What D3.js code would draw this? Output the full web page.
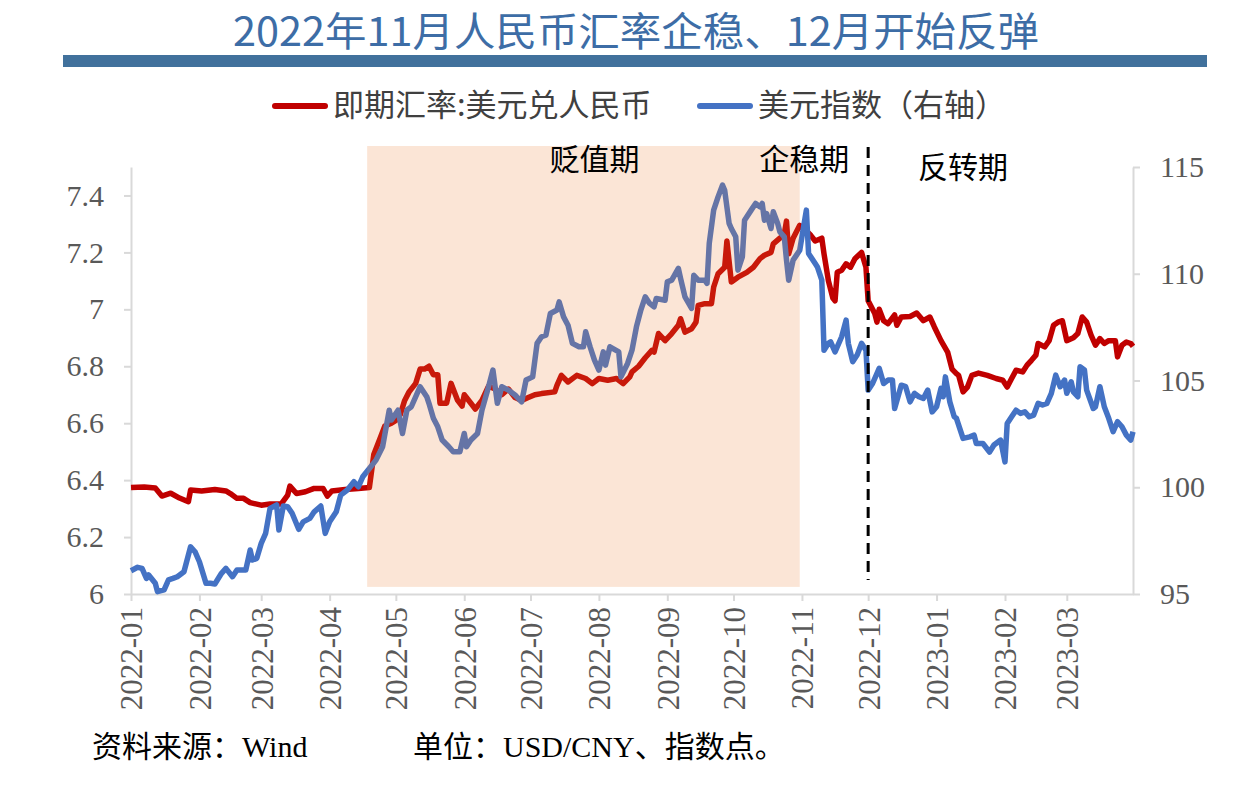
<!DOCTYPE html>
<html>
<head>
<meta charset="utf-8">
<script src="https://cdn.jsdelivr.net/npm/d3@7"></script>
<style>
  html, body { margin: 0; padding: 0; background: #fff; }
  svg { display: block; }
</style>
</head>
<body>
<div id="chart"></div>
<script>
// USD/CNY spot (left axis)
const fxSeries = [
  ['2022-01-01', 6.374], ['2022-01-07', 6.376], ['2022-01-12', 6.372], ['2022-01-15', 6.344],
  ['2022-01-19', 6.354], ['2022-01-23', 6.337], ['2022-01-27', 6.324], ['2022-01-28', 6.365],
  ['2022-02-02', 6.362], ['2022-02-08', 6.367], ['2022-02-13', 6.362], ['2022-02-15', 6.353],
  ['2022-02-18', 6.336], ['2022-02-21', 6.336], ['2022-02-24', 6.321], ['2022-03-01', 6.312],
  ['2022-03-05', 6.316], ['2022-03-10', 6.316], ['2022-03-13', 6.347], ['2022-03-14', 6.379],
  ['2022-03-17', 6.353], ['2022-03-21', 6.359], ['2022-03-25', 6.371], ['2022-03-29', 6.371],
  ['2022-03-31', 6.344], ['2022-04-02', 6.362], ['2022-04-08', 6.367], ['2022-04-14', 6.371],
  ['2022-04-19', 6.374], ['2022-04-21', 6.49], ['2022-04-24', 6.55], ['2022-04-26', 6.59],
  ['2022-04-29', 6.60], ['2022-05-01', 6.61], ['2022-05-03', 6.63], ['2022-05-05', 6.68],
  ['2022-05-07', 6.71], ['2022-05-10', 6.74], ['2022-05-12', 6.79], ['2022-05-14', 6.79],
  ['2022-05-16', 6.80], ['2022-05-18', 6.77], ['2022-05-20', 6.77], ['2022-05-21', 6.67],
  ['2022-05-24', 6.67], ['2022-05-26', 6.74], ['2022-05-29', 6.68], ['2022-05-31', 6.66],
  ['2022-06-01', 6.70], ['2022-06-04', 6.67], ['2022-06-06', 6.65], ['2022-06-09', 6.68],
  ['2022-06-12', 6.73], ['2022-06-15', 6.72], ['2022-06-18', 6.70], ['2022-06-21', 6.72],
  ['2022-06-24', 6.69], ['2022-06-27', 6.68], ['2022-06-30', 6.69], ['2022-07-03', 6.70],
  ['2022-07-06', 6.704], ['2022-07-12', 6.71], ['2022-07-13', 6.733], ['2022-07-15', 6.768],
  ['2022-07-18', 6.745], ['2022-07-22', 6.768], ['2022-07-26', 6.757], ['2022-07-29', 6.739],
  ['2022-08-01', 6.757], ['2022-08-05', 6.751], ['2022-08-09', 6.757], ['2022-08-12', 6.739],
  ['2022-08-15', 6.763], ['2022-08-16', 6.78], ['2022-08-19', 6.80], ['2022-08-22', 6.83],
  ['2022-08-25', 6.856], ['2022-08-26', 6.85], ['2022-08-28', 6.915], ['2022-08-31', 6.89],
  ['2022-09-03', 6.915], ['2022-09-06', 6.944], ['2022-09-07', 6.967], ['2022-09-09', 6.92],
  ['2022-09-12', 6.932], ['2022-09-14', 6.955], ['2022-09-15', 7.014], ['2022-09-18', 7.02],
  ['2022-09-21', 7.02], ['2022-09-22', 7.078], ['2022-09-24', 7.125], ['2022-09-27', 7.148],
  ['2022-09-28', 7.24], ['2022-09-30', 7.096], ['2022-10-03', 7.113], ['2022-10-07', 7.13],
  ['2022-10-10', 7.148], ['2022-10-13', 7.178], ['2022-10-15', 7.19], ['2022-10-18', 7.20],
  ['2022-10-19', 7.23], ['2022-10-22', 7.25], ['2022-10-24', 7.265], ['2022-10-25', 7.31],
  ['2022-10-26', 7.195], ['2022-10-28', 7.25], ['2022-10-31', 7.295], ['2022-11-02', 7.283],
  ['2022-11-05', 7.26], ['2022-11-07', 7.24], ['2022-11-10', 7.25], ['2022-11-11', 7.195],
  ['2022-11-13', 7.10], ['2022-11-15', 7.04], ['2022-11-16', 7.03], ['2022-11-17', 7.13],
  ['2022-11-19', 7.137], ['2022-11-21', 7.16], ['2022-11-23', 7.148], ['2022-11-25', 7.178],
  ['2022-11-28', 7.20], ['2022-11-30', 7.148], ['2022-12-01', 7.03], ['2022-12-04', 6.985],
  ['2022-12-05', 6.955], ['2022-12-06', 7.00], ['2022-12-08', 6.96], ['2022-12-10', 6.95],
  ['2022-12-13', 6.98], ['2022-12-14', 6.944], ['2022-12-16', 6.973], ['2022-12-20', 6.975],
  ['2022-12-23', 6.987], ['2022-12-26', 6.96], ['2022-12-29', 6.973], ['2022-12-31', 6.938],
  ['2023-01-03', 6.89], ['2023-01-06', 6.85], ['2023-01-08', 6.79], ['2023-01-10', 6.774],
  ['2023-01-11', 6.768], ['2023-01-13', 6.71], ['2023-01-15', 6.727], ['2023-01-17', 6.768],
  ['2023-01-20', 6.776], ['2023-01-24', 6.768], ['2023-01-28', 6.757], ['2023-01-31', 6.751],
  ['2023-02-02', 6.727], ['2023-02-04', 6.757], ['2023-02-06', 6.786], ['2023-02-09', 6.78],
  ['2023-02-11', 6.804], ['2023-02-13', 6.821], ['2023-02-15', 6.839], ['2023-02-16', 6.88],
  ['2023-02-19', 6.868], ['2023-02-21', 6.89], ['2023-02-23', 6.944], ['2023-02-25', 6.955],
  ['2023-02-27', 6.96], ['2023-03-01', 6.89], ['2023-03-04', 6.90], ['2023-03-06', 6.915],
  ['2023-03-08', 6.973], ['2023-03-10', 6.955], ['2023-03-12', 6.909], ['2023-03-14', 6.874],
  ['2023-03-16', 6.897], ['2023-03-18', 6.88], ['2023-03-20', 6.89], ['2023-03-23', 6.89],
  ['2023-03-24', 6.833], ['2023-03-26', 6.874], ['2023-03-28', 6.885], ['2023-03-30', 6.88],
  ['2023-03-31', 6.87]
];

// US dollar index (right axis)
const dxySeries = [
  ['2022-01-01', 96.09], ['2022-01-04', 96.25], ['2022-01-06', 96.20], ['2022-01-08', 95.73],
  ['2022-01-09', 95.89], ['2022-01-12', 95.50], ['2022-01-13', 95.11], ['2022-01-16', 95.19],
  ['2022-01-18', 95.66], ['2022-01-20', 95.73], ['2022-01-22', 95.81], ['2022-01-25', 96.04],
  ['2022-01-28', 97.21], ['2022-01-30', 96.98], ['2022-02-01', 96.51], ['2022-02-04', 95.50],
  ['2022-02-06', 95.50], ['2022-02-08', 95.47], ['2022-02-11', 95.97], ['2022-02-13', 96.20],
  ['2022-02-16', 95.81], ['2022-02-18', 96.12], ['2022-02-22', 96.12], ['2022-02-24', 97.06],
  ['2022-02-25', 96.59], ['2022-02-27', 96.67], ['2022-03-01', 97.37], ['2022-03-03', 97.84],
  ['2022-03-05', 99.01], ['2022-03-08', 99.17], ['2022-03-09', 98.00], ['2022-03-11', 99.12],
  ['2022-03-13', 99.09], ['2022-03-15', 98.78], ['2022-03-18', 98.03], ['2022-03-20', 98.38],
  ['2022-03-23', 98.54], ['2022-03-25', 98.85], ['2022-03-28', 99.12], ['2022-03-30', 97.84],
  ['2022-04-01', 98.38], ['2022-04-04', 98.85], ['2022-04-06', 99.63], ['2022-04-09', 99.87],
  ['2022-04-12', 100.26], ['2022-04-14', 100.02], ['2022-04-16', 100.49], ['2022-04-19', 100.88],
  ['2022-04-22', 101.27], ['2022-04-25', 101.90], ['2022-04-28', 103.61], ['2022-04-29', 103.15],
  ['2022-05-02', 103.61], ['2022-05-04', 102.52], ['2022-05-06', 103.61], ['2022-05-08', 103.77],
  ['2022-05-12', 104.71], ['2022-05-15', 104.24], ['2022-05-16', 103.93], ['2022-05-18', 103.23],
  ['2022-05-20', 102.83], ['2022-05-22', 102.21], ['2022-05-25', 101.90], ['2022-05-27', 101.66],
  ['2022-05-30', 101.66], ['2022-06-01', 102.52], ['2022-06-02', 101.90], ['2022-06-04', 102.21],
  ['2022-06-07', 102.52], ['2022-06-09', 103.61], ['2022-06-12', 104.71], ['2022-06-14', 105.49],
  ['2022-06-16', 103.93], ['2022-06-18', 104.71], ['2022-06-21', 104.55], ['2022-06-24', 104.32],
  ['2022-06-27', 104.00], ['2022-06-29', 105.02], ['2022-07-02', 105.17], ['2022-07-04', 106.74],
  ['2022-07-06', 107.05], ['2022-07-08', 107.12], ['2022-07-10', 108.14], ['2022-07-13', 108.30],
  ['2022-07-14', 108.68], ['2022-07-16', 107.98], ['2022-07-18', 107.59], ['2022-07-20', 106.74],
  ['2022-07-23', 106.58], ['2022-07-25', 106.58], ['2022-07-26', 107.28], ['2022-07-28', 106.58],
  ['2022-07-30', 105.95], ['2022-08-01', 105.49], ['2022-08-03', 106.34], ['2022-08-04', 105.72],
  ['2022-08-06', 106.58], ['2022-08-10', 106.34], ['2022-08-11', 105.17], ['2022-08-14', 105.80],
  ['2022-08-16', 106.42], ['2022-08-18', 107.51], ['2022-08-20', 108.30], ['2022-08-22', 108.92],
  ['2022-08-24', 108.61], ['2022-08-26', 108.45], ['2022-08-27', 108.84], ['2022-08-31', 108.76],
  ['2022-09-01', 109.62], ['2022-09-03', 109.70], ['2022-09-06', 110.25], ['2022-09-07', 109.78],
  ['2022-09-09', 108.92], ['2022-09-12', 108.38], ['2022-09-13', 109.93], ['2022-09-15', 109.70],
  ['2022-09-18', 109.70], ['2022-09-19', 109.55], ['2022-09-20', 111.42], ['2022-09-22', 112.98],
  ['2022-09-24', 113.60], ['2022-09-26', 114.15], ['2022-09-27', 113.91], ['2022-09-29', 112.36],
  ['2022-09-30', 112.12], ['2022-10-02', 111.73], ['2022-10-03', 110.17], ['2022-10-05', 110.79],
  ['2022-10-06', 112.51], ['2022-10-09', 112.98], ['2022-10-11', 113.29], ['2022-10-13', 113.13],
  ['2022-10-14', 113.29], ['2022-10-15', 112.51], ['2022-10-16', 112.82], ['2022-10-18', 112.12],
  ['2022-10-19', 112.90], ['2022-10-21', 112.36], ['2022-10-22', 111.96], ['2022-10-24', 111.73],
  ['2022-10-25', 110.64], ['2022-10-26', 109.70], ['2022-10-28', 110.64], ['2022-10-29', 110.79],
  ['2022-10-31', 111.10], ['2022-11-01', 111.73], ['2022-11-03', 112.98], ['2022-11-04', 110.95],
  ['2022-11-07', 110.48], ['2022-11-08', 110.32], ['2022-11-10', 109.70], ['2022-11-11', 106.42],
  ['2022-11-13', 106.74], ['2022-11-14', 106.81], ['2022-11-16', 106.34], ['2022-11-19', 107.05],
  ['2022-11-21', 107.83], ['2022-11-22', 106.74], ['2022-11-24', 105.88], ['2022-11-26', 106.19],
  ['2022-11-28', 106.74], ['2022-11-30', 106.42], ['2022-12-01', 104.55], ['2022-12-03', 104.86],
  ['2022-12-06', 105.57], ['2022-12-08', 104.86], ['2022-12-10', 105.02], ['2022-12-12', 105.02],
  ['2022-12-13', 103.69], ['2022-12-16', 104.78], ['2022-12-18', 104.71], ['2022-12-20', 104.00],
  ['2022-12-22', 104.40], ['2022-12-24', 104.24], ['2022-12-26', 104.16], ['2022-12-28', 104.55],
  ['2022-12-30', 103.53], ['2023-01-01', 103.77], ['2023-01-03', 104.63], ['2023-01-04', 104.24],
  ['2023-01-05', 105.17], ['2023-01-07', 104.00], ['2023-01-09', 103.30], ['2023-01-10', 103.23],
  ['2023-01-13', 102.29], ['2023-01-16', 102.36], ['2023-01-18', 102.44], ['2023-01-19', 102.05],
  ['2023-01-22', 102.05], ['2023-01-25', 101.65], ['2023-01-27', 101.98], ['2023-01-30', 102.21],
  ['2023-02-01', 101.19], ['2023-02-02', 102.99], ['2023-02-04', 103.30], ['2023-02-06', 103.61],
  ['2023-02-08', 103.46], ['2023-02-10', 103.53], ['2023-02-12', 103.30], ['2023-02-14', 103.38],
  ['2023-02-16', 103.93], ['2023-02-18', 103.85], ['2023-02-20', 103.93], ['2023-02-22', 104.40],
  ['2023-02-24', 105.25], ['2023-02-26', 104.71], ['2023-02-28', 105.02], ['2023-03-01', 104.40],
  ['2023-03-03', 104.94], ['2023-03-04', 104.47], ['2023-03-06', 104.24], ['2023-03-07', 105.64],
  ['2023-03-09', 105.49], ['2023-03-10', 104.55], ['2023-03-13', 103.69], ['2023-03-14', 103.77],
  ['2023-03-16', 104.71], ['2023-03-18', 103.77], ['2023-03-20', 103.23], ['2023-03-22', 102.60],
  ['2023-03-24', 103.07], ['2023-03-26', 102.83], ['2023-03-28', 102.44], ['2023-03-30', 102.21],
  ['2023-03-31', 102.60]
];

const monthTicks = ['2022-01', '2022-02', '2022-03', '2022-04', '2022-05', '2022-06', '2022-07',
  '2022-08', '2022-09', '2022-10', '2022-11', '2022-12', '2023-01', '2023-02', '2023-03'];
const leftTicks = [6, 6.2, 6.4, 6.6, 6.8, 7, 7.2, 7.4];
const rightTicks = [95, 100, 105, 110, 115];

const depreciation = ['2022-04-18', '2022-10-31'];   // 贬值期 shading
const reversalStart = '2022-12-01';                  // dashed divider
const periodLabels = [
  { text: '贬值期', date: '2022-07-30' },
  { text: '企稳期', date: '2022-11-02' },
  { text: '反转期', date: '2023-01-13' }
];

const parseDay = d3.timeParse('%Y-%m-%d');
const parseMonth = d3.timeParse('%Y-%m');

const width = 1253, height = 800;
const plot = { left: 131, right: 1133, top: 167, bottom: 594 };
const cjk = '"Noto Sans CJK SC", sans-serif';
const serif = '"Liberation Serif", "Noto Sans CJK SC", serif';

const svg = d3.select('#chart').append('svg')
  .attr('width', width)
  .attr('height', height)
  .style('background', '#fff');

const x = d3.scaleTime()
  .domain([parseDay('2022-01-01'), parseDay('2023-03-31')])
  .range([plot.left, plot.right]);

const yLeft = d3.scaleLinear().domain([6, 7.5]).range([plot.bottom, plot.top]);
const yRight = d3.scaleLinear().domain([95, 115]).range([plot.bottom, plot.top]);

// title + bar
svg.append('text')
  .attr('x', 636)
  .attr('y', 46)
  .attr('text-anchor', 'middle')
  .attr('fill', '#3d6da6')
  .attr('font-family', cjk)
  .attr('font-size', '40px')
  .attr('textLength', 806)
  .attr('lengthAdjust', 'spacingAndGlyphs')
  .text('2022年11月人民币汇率企稳、12月开始反弹');

svg.append('rect')
  .attr('x', 63)
  .attr('y', 55)
  .attr('width', 1144)
  .attr('height', 12)
  .attr('fill', '#41719c');

// legend
const legend = [
  { name: '即期汇率:美元兑人民币', color: '#c00000', x: 275 },
  { name: '美元指数（右轴）', color: '#4472c4', x: 700 }
];
legend.forEach(l => {
  svg.append('line')
    .attr('x1', l.x).attr('x2', l.x + 50)
    .attr('y1', 106).attr('y2', 106)
    .attr('stroke', l.color)
    .attr('stroke-width', 6)
    .attr('stroke-linecap', 'round');
  svg.append('text')
    .attr('x', l.x + 58)
    .attr('y', 116)
    .attr('fill', '#404040')
    .attr('font-family', cjk)
    .attr('font-size', '31px')
    .text(l.name);
});

// axes
const styleAxis = g => {
  g.select('.domain').attr('stroke', '#d9d9d9').attr('stroke-width', 2);
  g.selectAll('.tick line').attr('stroke', '#d9d9d9').attr('stroke-width', 2);
  g.selectAll('.tick text')
    .attr('fill', '#595959')
    .attr('font-family', serif)
    .attr('font-size', '30px');
};

svg.append('g')
  .attr('transform', `translate(${plot.left},0)`)
  .call(d3.axisLeft(yLeft).tickValues(leftTicks).tickSize(7).tickSizeOuter(0)
    .tickPadding(20).tickFormat(d => String(+d.toFixed(1))))
  .call(styleAxis);

svg.append('g')
  .attr('transform', `translate(${plot.right},0)`)
  .call(d3.axisRight(yRight).tickValues(rightTicks).tickSize(7).tickSizeOuter(0)
    .tickPadding(20))
  .call(styleAxis);

const xAxis = svg.append('g')
  .attr('transform', `translate(0,${plot.bottom})`)
  .call(d3.axisBottom(x).tickValues(monthTicks.map(parseMonth)).tickSize(7).tickSizeOuter(0)
    .tickFormat(d3.timeFormat('%Y-%m')))
  .call(styleAxis);
xAxis.selectAll('.tick text')
  .attr('transform', 'rotate(-90)')
  .attr('text-anchor', 'end')
  .attr('font-size', '31px')
  .attr('x', -13)
  .attr('y', 0)
  .attr('dy', '0.35em');

// lines
const fxLine = d3.line()
  .x(d => x(parseDay(d[0])))
  .y(d => yLeft(d[1]));
const dxyLine = d3.line()
  .x(d => x(parseDay(d[0])))
  .y(d => yRight(d[1]));

svg.append('path')
  .datum(fxSeries)
  .attr('d', fxLine)
  .attr('fill', 'none')
  .attr('stroke', '#c00000')
  .attr('stroke-width', 5.5)
  .attr('stroke-linejoin', 'round');

svg.append('path')
  .datum(dxySeries)
  .attr('d', dxyLine)
  .attr('fill', 'none')
  .attr('stroke', '#4472c4')
  .attr('stroke-width', 5.5)
  .attr('stroke-linejoin', 'round');

// depreciation shading, laid over the lines
const s0 = x(parseDay(depreciation[0])), s1 = x(parseDay(depreciation[1]));
svg.append('rect')
  .attr('x', s0)
  .attr('y', plot.top - 21)
  .attr('width', s1 - s0)
  .attr('height', yLeft(6.025) - (plot.top - 21))
  .attr('fill', '#ed7d31')
  .attr('opacity', 0.2);

// divider
const xd = x(parseDay(reversalStart));
svg.append('line')
  .attr('x1', xd).attr('x2', xd)
  .attr('y1', plot.top - 20).attr('y2', plot.bottom - 14)
  .attr('stroke', '#000')
  .attr('stroke-width', 3)
  .attr('stroke-dasharray', '11,7');

periodLabels.forEach((p, i) => {
  svg.append('text')
    .attr('x', x(parseDay(p.date)))
    .attr('y', i === 2 ? 178 : 170)
    .attr('text-anchor', 'middle')
    .attr('fill', '#000')
    .attr('font-family', cjk)
    .attr('font-size', '30px')
    .text(p.text);
});

// footer
svg.append('text')
  .attr('x', 92).attr('y', 757)
  .attr('fill', '#000')
  .attr('font-family', serif)
  .attr('font-size', '30px')
  .text('资料来源：Wind');

svg.append('text')
  .attr('x', 413).attr('y', 757)
  .attr('fill', '#000')
  .attr('font-family', serif)
  .attr('font-size', '30px')
  .text('单位：USD/CNY、指数点。');
</script>
</body>
</html>
